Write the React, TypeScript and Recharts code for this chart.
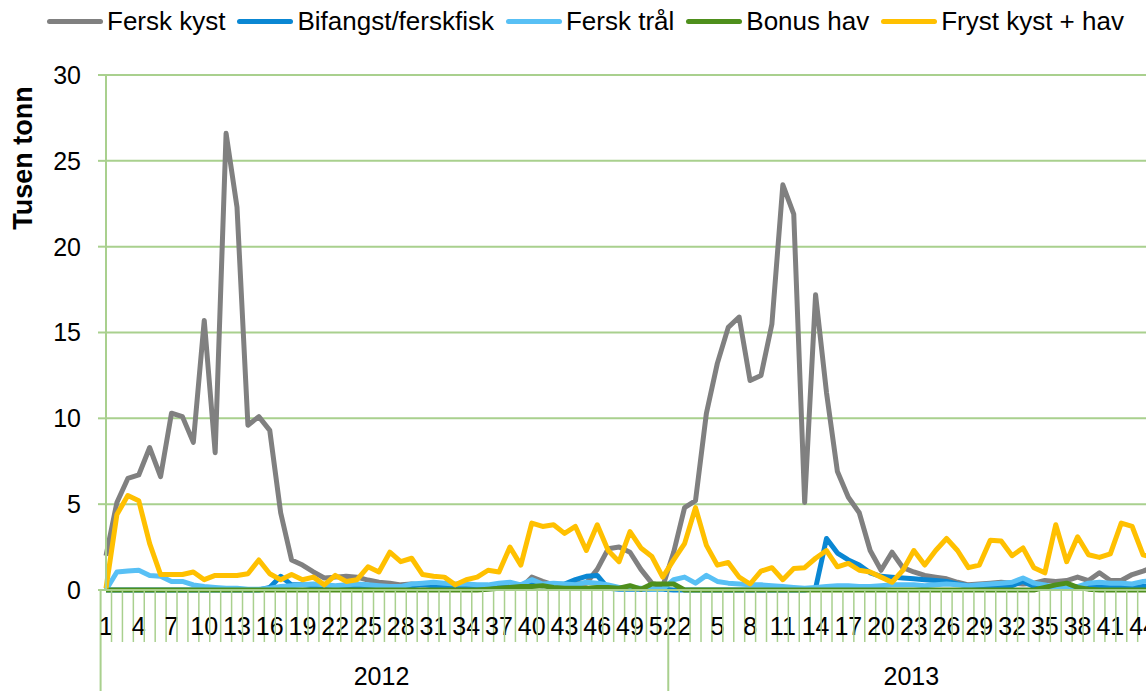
import React from "react";
import { LineChart, Line, XAxis, YAxis, CartesianGrid } from "recharts";

// Week numbers per year (2013 is cut at week 45 in the source)
const WEEKS_2012 = Array.from({ length: 52 }, (_, i) => i + 1);
const WEEKS_2013 = Array.from({ length: 45 }, (_, i) => i + 1);

// Which week numbers get a label under the axis
const LABELS_2012 = [1, 4, 7, 10, 13, 16, 19, 22, 25, 28, 31, 34, 37, 40, 43, 46, 49, 52];
const LABELS_2013 = [2, 5, 8, 11, 14, 17, 20, 23, 26, 29, 32, 35, 38, 41, 44];

const Y_TICKS = [0, 5, 10, 15, 20, 25, 30];

// Tusen tonn per week
const ferskKyst2012 = [
  2.0, 5.1, 6.5, 6.7, 8.3, 6.6, 10.3, 10.1, 8.6, 15.7,
  8.0, 26.6, 22.3, 9.6, 10.1, 9.3, 4.5, 1.75, 1.45, 1.05,
  0.7, 0.75, 0.8, 0.75, 0.58, 0.45, 0.4, 0.3, 0.35, 0.3,
  0.3, 0.25, 0.25, 0.3, 0.25, 0.2, 0.2, 0.3, 0.1, 0.75,
  0.5, 0.3, 0.3, 0.4, 0.4, 1.2, 2.4, 2.5, 2.2, 1.2,
  0.4, 0.2,
];
const ferskKyst2013 = [
  2.2, 4.8, 5.2, 10.3, 13.2, 15.3, 15.9, 12.2, 12.5, 15.5,
  23.6, 21.9, 5.1, 17.2, 11.5, 6.9, 5.4, 4.5, 2.3, 1.15,
  2.2, 1.3, 1.05, 0.85, 0.75, 0.65, 0.45, 0.3, 0.35, 0.4,
  0.45, 0.4, 0.35, 0.4, 0.55, 0.5, 0.55, 0.75, 0.55, 1.0,
  0.55, 0.55, 0.9, 1.1, 1.35,
];

const bifangst2012 = [
  0, 0, 0, 0, 0, 0, 0, 0, 0, 0,
  0, 0, 0, 0, 0, 0.15, 0.8, 0.3, 0.3, 0.25,
  0.2, 0.2, 0.25, 0.2, 0.2, 0.15, 0.15, 0.2, 0.25, 0.3,
  0.25, 0.2, 0.2, 0.25, 0.2, 0.2, 0.2, 0.25, 0.3, 0.3,
  0.25, 0.3, 0.35, 0.6, 0.8, 0.85, 0.1, 0.05, 0.05, 0.05,
  0.05, 0.05,
];
const bifangst2013 = [
  0, 0, 0, 0, 0, 0, 0, 0, 0, 0,
  0, 0, 0, 0.1, 3.0, 2.15, 1.75, 1.45, 1.0, 0.8,
  0.75, 0.7, 0.65, 0.6, 0.55, 0.5, 0.35, 0.25, 0.2, 0.2,
  0.2, 0.25, 0.5, 0.2, 0.15, 0.1, 0.1, 0.2, 0.2, 0.25,
  0.2, 0.2, 0.15, 0.2, 0.25,
];

const ferskTral2012 = [
  0, 1.05, 1.1, 1.15, 0.85, 0.8, 0.5, 0.5, 0.3, 0.2,
  0.15, 0.1, 0.1, 0.05, 0.05, 0.1, 0.2, 0.25, 0.3, 0.35,
  0.3, 0.25, 0.3, 0.35, 0.3, 0.25, 0.2, 0.2, 0.35, 0.4,
  0.45, 0.4, 0.35, 0.35, 0.3, 0.3, 0.4, 0.45, 0.3, 0.6,
  0.35, 0.4, 0.35, 0.3, 0.45, 0.4, 0.3, 0.15, 0.15, 0.1,
  0.05, 0.05,
];
const ferskTral2013 = [
  0.6, 0.75, 0.4, 0.85, 0.5, 0.4, 0.35, 0.3, 0.3, 0.25,
  0.2, 0.15, 0.1, 0.15, 0.2, 0.25, 0.25, 0.2, 0.2, 0.25,
  0.3, 0.3, 0.3, 0.25, 0.3, 0.35, 0.3, 0.25, 0.3, 0.35,
  0.4, 0.45, 0.7, 0.4, 0.3, 0.15, 0.1, 0.2, 0.4, 0.45,
  0.4, 0.4, 0.35, 0.5, 0.55,
];

const bonusHav2012 = [
  0, 0, 0, 0, 0, 0, 0, 0, 0, 0,
  0, 0, 0, 0, 0, 0, 0, 0, 0, 0,
  0, 0, 0, 0, 0, 0, 0, 0, 0, 0,
  0, 0, 0, 0, 0, 0.05, 0.1, 0.15, 0.2, 0.2,
  0.25, 0.15, 0.1, 0.1, 0.1, 0.15, 0.15, 0.1, 0.25, 0.05,
  0.35, 0.35,
];
const bonusHav2013 = [
  0.35, 0, 0, 0, 0, 0, 0, 0, 0, 0,
  0, 0, 0, 0, 0, 0, 0, 0, 0, 0,
  0, 0, 0, 0, 0, 0, 0, 0, 0, 0,
  0, 0, 0, 0, 0.15, 0.3, 0.4, 0.15, 0.05, 0,
  0, 0, 0, 0, 0,
];

const fryst2012 = [
  0.1, 4.4, 5.5, 5.2, 2.7, 0.9, 0.9, 0.9, 1.05, 0.6,
  0.85, 0.85, 0.85, 0.95, 1.75, 0.95, 0.6, 0.9, 0.6, 0.75,
  0.3, 0.85, 0.5, 0.6, 1.35, 1.05, 2.2, 1.65, 1.85, 0.9,
  0.8, 0.75, 0.3, 0.6, 0.75, 1.15, 1.05, 2.5, 1.45, 3.9,
  3.7, 3.8, 3.3, 3.7, 2.3, 3.8, 2.3, 1.65, 3.4, 2.45,
  1.95, 0.75,
];
const fryst2013 = [
  1.75, 2.7, 4.8, 2.6, 1.45, 1.6, 0.75, 0.35, 1.1, 1.3,
  0.6, 1.25, 1.3, 1.85, 2.3, 1.35, 1.55, 1.15, 1.05, 0.75,
  0.45, 1.15, 2.3, 1.45, 2.3, 3.0, 2.3, 1.3, 1.45, 2.9,
  2.85, 2.0, 2.45, 1.3, 1.0, 3.8, 1.65, 3.1, 2.05, 1.9,
  2.1, 3.9, 3.7, 2.05, 1.85,
];

const SERIES = [
  { key: "ferskKyst", name: "Fersk kyst", color: "#808080" },
  { key: "bifangst", name: "Bifangst/ferskfisk", color: "#0A87D3" },
  { key: "ferskTral", name: "Fersk tr\u00e5l", color: "#58C0F5" },
  { key: "bonusHav", name: "Bonus hav", color: "#4E8F1C" },
  { key: "fryst", name: "Fryst kyst + hav", color: "#FFC000" },
];

const rows = [
  ...WEEKS_2012.map((w, i) => ({
    key: `2012-${w}`,
    year: "2012",
    week: w,
    ferskKyst: ferskKyst2012[i],
    bifangst: bifangst2012[i],
    ferskTral: ferskTral2012[i],
    bonusHav: bonusHav2012[i],
    fryst: fryst2012[i],
  })),
  ...WEEKS_2013.map((w, i) => ({
    key: `2013-${w}`,
    year: "2013",
    week: w,
    ferskKyst: ferskKyst2013[i],
    bifangst: bifangst2013[i],
    ferskTral: ferskTral2013[i],
    bonusHav: bonusHav2013[i],
    fryst: fryst2013[i],
  })),
];

const FONT = "'Liberation Sans', Arial, sans-serif";
const GRID = "#A9D08E";

const CHART_W = 1155;
const CHART_H = 691;
const MARGIN = { top: 75, right: 1, bottom: 0, left: 6 };
const Y_AXIS_W = 100;
const X_AXIS_H = 101;

// Excel-style two level category axis: week numbers + year groups
const WeekTick = (props: any) => {
  const { x, y, payload, visibleTicksCount } = props;
  const row = rows.find((r) => r.key === payload.value);
  if (!row) return null;
  const step = payload.offset ? payload.offset * 2 : 0;
  const band = step || (CHART_W - MARGIN.left - MARGIN.right - Y_AXIS_W) / (visibleTicksCount || rows.length);
  const left = x - band / 2;
  const isStart = row.week === 1;
  const labels = row.year === "2012" ? LABELS_2012 : LABELS_2013;
  const count = row.year === "2012" ? WEEKS_2012.length : WEEKS_2013.length;
  return (
    <g>
      <line
        x1={left}
        x2={left}
        y1={y}
        y2={isStart ? y + X_AXIS_H : y + 52}
        stroke={GRID}
        strokeWidth={isStart ? 2 : 1.5}
      />
      {labels.includes(row.week) && (
        <text x={x} y={y + 45} textAnchor="middle" fontSize={25} fontFamily={FONT} fill="#000">
          {row.week}
        </text>
      )}
      {isStart && (
        <text
          x={left + (count * band) / 2}
          y={y + 95}
          textAnchor="middle"
          fontSize={25}
          fontFamily={FONT}
          fill="#000"
        >
          {row.year}
        </text>
      )}
    </g>
  );
};

const App: React.FC = () => {
  return (
    <div
      style={{
        position: "absolute",
        left: 0,
        top: 0,
        width: 1146,
        height: 691,
        overflow: "hidden",
        background: "#fff",
      }}
    >
      <div
        style={{
          position: "absolute",
          left: 47,
          top: 8,
          display: "flex",
          alignItems: "center",
          fontFamily: FONT,
          fontSize: 26,
          lineHeight: "26px",
          whiteSpace: "nowrap",
          color: "#000",
        }}
      >
        {SERIES.map((s) => (
          <div key={s.key} style={{ display: "flex", alignItems: "center", marginRight: 12 }}>
            <span
              style={{
                display: "inline-block",
                width: 56,
                height: 5,
                borderRadius: 3,
                background: s.color,
                marginRight: 4,
              }}
            />
            <span>{s.name}</span>
          </div>
        ))}
      </div>
      <div
        style={{
          position: "absolute",
          left: 23,
          top: 158,
          transform: "translate(-50%, -50%) rotate(-90deg)",
          fontFamily: FONT,
          fontSize: 27,
          fontWeight: "bold",
          lineHeight: 1,
          whiteSpace: "nowrap",
          color: "#000",
        }}
      >
        Tusen tonn
      </div>
      <LineChart width={CHART_W} height={CHART_H} data={rows} margin={MARGIN}>
        <CartesianGrid vertical={false} stroke={GRID} strokeWidth={2} />
        <XAxis
          dataKey="key"
          interval={0}
          height={X_AXIS_H}
          tickLine={false}
          tickSize={0}
          tickMargin={0}
          axisLine={{ stroke: GRID, strokeWidth: 2 }}
          tick={<WeekTick />}
        />
        <YAxis
          width={Y_AXIS_W}
          domain={[0, 30]}
          ticks={Y_TICKS}
          interval={0}
          tickSize={8}
          tickMargin={17}
          tickLine={{ stroke: GRID, strokeWidth: 2 }}
          axisLine={{ stroke: GRID, strokeWidth: 2 }}
          tick={{ fill: "#000", fontSize: 25, fontFamily: FONT }}
        />
        {SERIES.map((s) => (
          <Line
            key={s.key}
            type="linear"
            dataKey={s.key}
            name={s.name}
            stroke={s.color}
            strokeWidth={5}
            strokeLinejoin="round"
            dot={false}
            activeDot={false}
            isAnimationActive={false}
          />
        ))}
      </LineChart>
    </div>
  );
};

export default App;
